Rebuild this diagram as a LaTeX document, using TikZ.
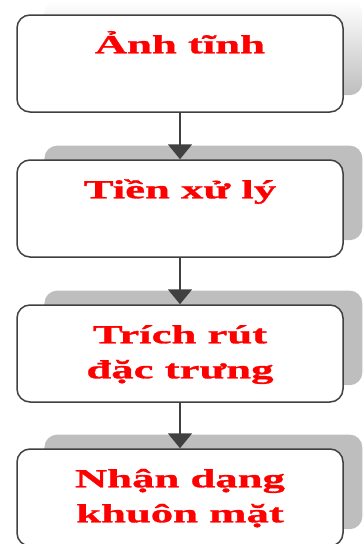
\documentclass[tikz,border=0pt]{standalone}
\usepackage{fontspec}
\newfontfamily\pasofont[FakeStretch=1.72, BoldFeatures={FakeBold=1.2}]{Liberation Serif}
\usetikzlibrary{arrows.meta,shadows}

\definecolor{bordegris}{HTML}{404040}
\definecolor{sombragris}{HTML}{BEBEBE}

\tikzset{
    caja/.style={draw=bordegris, line width=1.5pt, fill=white, rounded corners=13pt,
        minimum width=326pt, minimum height=97pt, inner sep=0pt},
    sombra/.style={general shadow={fill=sombragris, rounded corners=15pt,
        shadow xshift=24pt, shadow yshift=16pt, shadow scale=0.975}},
    sombraclara/.style={general shadow={top color=white, bottom color=sombragris, rounded corners=15pt,
        shadow xshift=24pt, shadow yshift=16pt, shadow scale=0.975}},
    texto/.style={text=red, font=\pasofont\bfseries\fontsize{26}{35}\selectfont,
        align=center, anchor=base, inner sep=0pt},
    flecha/.style={draw=bordegris, line width=2pt, -{Triangle[width=24pt,length=15pt]}}
}

\begin{document}
\begin{tikzpicture}[x=1pt,y=-1pt] % Coordenadas en pixeles, eje y hacia abajo

    \useasboundingbox (0,0) rectangle (363,544);
    \clip (0,0) rectangle (363,544);

    % Cajas de cada paso
    \node[caja, sombraclara] (anh) at (180,63.5) {};
    \node[caja, sombra] (tien) at (180,208.5) {};
    \node[caja, sombra] (trich) at (180,353.5) {};
    \node[caja, sombra] (nhan) at (180,497.5) {};

    % Textos (la base es la ultima linea: 39px o 74px bajo el borde)
    \node[texto] (tanh) at ([yshift=-39pt]anh.north) {Ảnh tĩnh};
    \node[texto] (ttien) at ([yshift=-39pt]tien.north) {Tiền xử lý};
    \node[texto] (ttrich) at ([yshift=-74pt]trich.north) {Trích rút\\đặc trưng};
    \node[texto] (tnhan) at ([yshift=-74pt]nhan.north) {Nhận dạng\\khuôn mặt};

    % Flechas entre pasos
    \draw[flecha] (anh) -- (tien);
    \draw[flecha] (tien) -- (trich);
    \draw[flecha] (trich) -- (nhan);

\end{tikzpicture}
\end{document}
